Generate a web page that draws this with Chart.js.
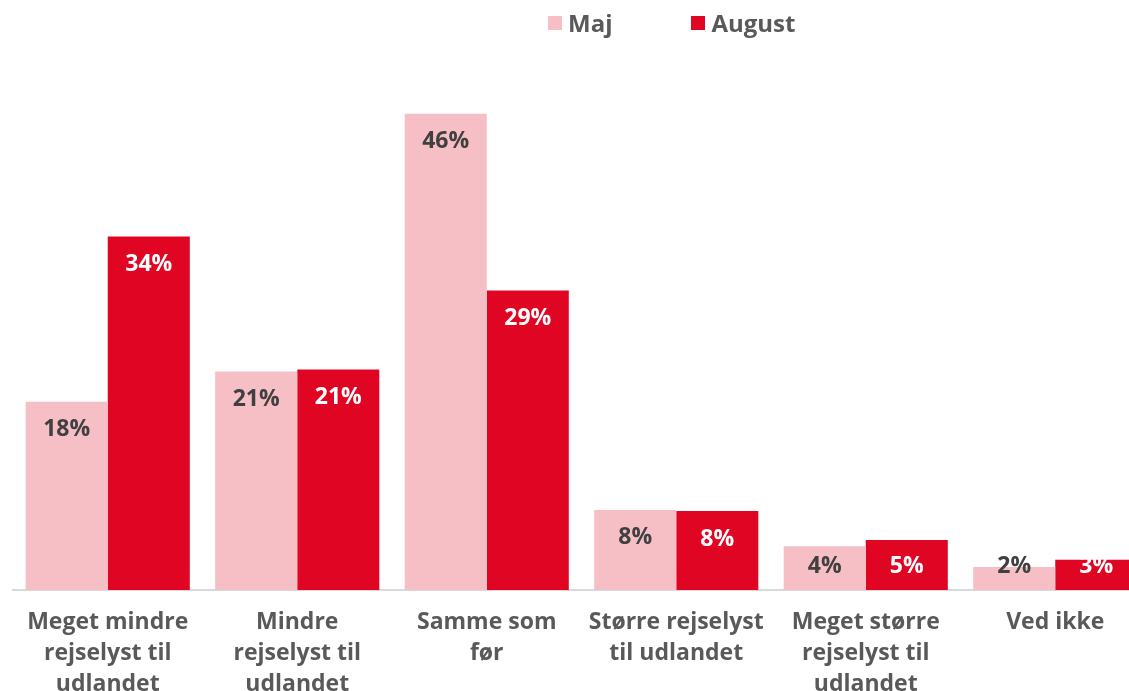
<!DOCTYPE html>
<html>
<head>
<meta charset="utf-8">
<script src="https://cdn.jsdelivr.net/npm/chart.js@4"></script>
<style>
  html, body { margin: 0; padding: 0; background: #fff; overflow: hidden; }
  .wrap { position: relative; width: 1150px; height: 691px; }
  #legend { position: absolute; top: 6px; left: 548px; display: flex; font-family: "Open Sans", sans-serif; font-weight: 700; font-size: 24px; color: #595959; }
  #legend span.item { display: flex; align-items: center; margin-right: 79px; }
  #legend span.box { display: inline-block; width: 14px; height: 14px; margin-right: 6px; }
</style>
</head>
<body>
<div class="wrap">
  <canvas id="chart" width="1150" height="691"></canvas>
  <div id="legend"></div>
</div>
<script>
const categories = [
  ['Meget mindre', 'rejselyst til', 'udlandet'],
  ['Mindre', 'rejselyst til', 'udlandet'],
  ['Samme som', 'før'],
  ['Større rejselyst', 'til udlandet'],
  ['Meget større', 'rejselyst til', 'udlandet'],
  ['Ved ikke']
];
const majValues = [18.1, 21.0, 45.8, 7.7, 4.2, 2.2];
const augustValues = [34.0, 21.2, 28.8, 7.6, 4.8, 2.9];
const seriesNames = ['Maj', 'August'];

const pink = '#F5BFC5';
const red = '#E00523';

// labels inside the top of each bar
const barLabels = {
  id: 'barLabels',
  afterDatasetsDraw(chart) {
    const ctx = chart.ctx;
    const base = chart.scales.y.getPixelForValue(0);
    ctx.save();
    ctx.font = '700 23px "Open Sans", sans-serif';
    ctx.textAlign = 'center';
    ctx.textBaseline = 'middle';
    chart.data.datasets.forEach((ds, i) => {
      chart.getDatasetMeta(i).data.forEach((bar, j) => {
        const y = Math.min(bar.y + 28, base - 24);
        ctx.fillStyle = i === 0 ? '#404040' : '#ffffff';
        ctx.fillText(Math.round(ds.data[j]) + '%', bar.x, y);
      });
    });
    ctx.restore();
  }
};

const chart = new Chart(document.getElementById('chart'), {
  type: 'bar',
  data: {
    labels: categories,
    datasets: [
      { label: seriesNames[0], data: majValues, backgroundColor: pink },
      { label: seriesNames[1], data: augustValues, backgroundColor: red }
    ]
  },
  options: {
    responsive: false,
    animation: false,
    layout: { padding: { top: 70, left: 13, right: 0, bottom: 0 } },
    categoryPercentage: 0.866,
    barPercentage: 1.0,
    plugins: {
      legend: { display: false },
      tooltip: { enabled: false }
    },
    scales: {
      y: { display: false, min: 0, max: 50 },
      x: {
        grid: { display: false },
        border: { display: true, color: '#D9D9D9', width: 2 },
        ticks: {
          color: '#595959',
          font: { family: '"Open Sans", sans-serif', size: 23, weight: '700', lineHeight: 1.35 },
          padding: 9,
          maxRotation: 0,
          autoSkip: false
        },
        afterFit(scale) { scale.height = 101; }
      }
    }
  },
  plugins: [barLabels]
});

// legend built from the datasets
const legend = document.getElementById('legend');
chart.data.datasets.forEach(ds => {
  const item = document.createElement('span');
  item.className = 'item';
  const box = document.createElement('span');
  box.className = 'box';
  box.style.background = ds.backgroundColor;
  item.appendChild(box);
  item.appendChild(document.createTextNode(ds.label));
  legend.appendChild(item);
});
</script>
</body>
</html>
